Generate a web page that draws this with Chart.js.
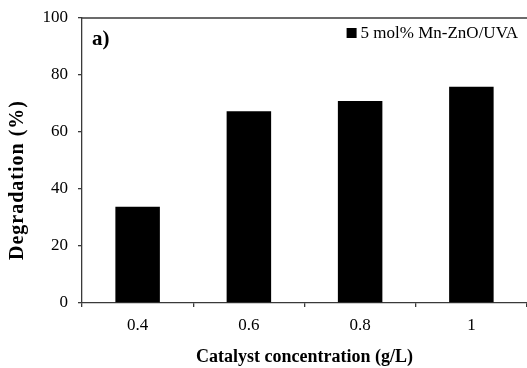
<!DOCTYPE html>
<html>
<head>
<meta charset="utf-8">
<script src="https://cdn.jsdelivr.net/npm/chart.js@4.4.0/dist/chart.umd.min.js"></script>
<style>
html,body{margin:0;padding:0;background:#fff;overflow:hidden;}
#wrap{width:527px;height:368px;}
</style>
</head>
<body>
<div id="wrap"><canvas id="c" width="527" height="368"></canvas></div>
<script>
const categories = ["0.4", "0.6", "0.8", "1"];
const degradation = [33.8, 67.3, 70.9, 75.9];
const seriesLabel = "5 mol% Mn-ZnO/UVA";
const yTicks = [0, 20, 40, 60, 80, 100];
const panelLabel = "a)";
const xTitle = "Catalyst concentration (g/L)";
const yTitle = "Degradation (%)";

const serif = "'Liberation Serif', 'Times New Roman', serif";
const axisColor = "#3a3a3a";

const extras = {
  id: "extras",
  afterDraw(chart) {
    const ctx = chart.ctx, a = chart.chartArea;
    ctx.save();
    // top frame line
    ctx.strokeStyle = axisColor;
    ctx.lineWidth = 1.3;
    ctx.beginPath();
    ctx.moveTo(a.left, a.top);
    ctx.lineTo(a.right, a.top);
    ctx.stroke();
    // panel label
    ctx.fillStyle = "#000";
    ctx.font = "bold 21px " + serif;
    ctx.textBaseline = "middle";
    ctx.textAlign = "left";
    ctx.fillText(panelLabel, a.left + 10, a.top + 22);
    // legend
    const ds = chart.data.datasets[0];
    ctx.font = "17px " + serif;
    const tw = ctx.measureText(ds.label).width;
    const tx = a.right - 9 - tw;
    const ty = a.top + 15;
    ctx.fillStyle = ds.backgroundColor;
    ctx.fillRect(tx - 14, ty - 5, 10, 10);
    ctx.fillStyle = "#000";
    ctx.fillText(ds.label, tx, ty + 1);
    // y axis title
    ctx.translate(17, 180);
    ctx.rotate(-Math.PI / 2);
    ctx.font = "bold 20px " + serif;
    ctx.letterSpacing = "1px";
    ctx.textAlign = "center";
    ctx.fillText(yTitle, 0, 1);
    ctx.restore();
  }
};

new Chart(document.getElementById("c"), {
  type: "bar",
  data: {
    labels: categories,
    datasets: [{
      label: seriesLabel,
      data: degradation,
      backgroundColor: "#000000",
      borderWidth: 0,
      barPercentage: 0.4,
      categoryPercentage: 1.0
    }]
  },
  options: {
    responsive: false,
    animation: false,
    devicePixelRatio: 1,
    layout: { padding: { top: 18, right: 0, left: 0, bottom: 0 } },
    plugins: { legend: { display: false }, tooltip: { enabled: false } },
    scales: {
      x: {
        grid: { drawOnChartArea: false, drawTicks: true, tickLength: 4, color: axisColor, lineWidth: 1.3, offset: true },
        border: { color: axisColor, width: 1.3 },
        ticks: { color: "#000", font: { family: serif, size: 17 }, padding: 8 },
        title: { display: true, text: xTitle, color: "#000", font: { family: serif, size: 18, weight: "bold" }, padding: { top: 0, bottom: 0 } },
        afterFit(s) { s.height = 65; s.paddingLeft = 0; s.paddingRight = 0; }
      },
      y: {
        min: 0, max: 100,
        afterBuildTicks(s) { s.ticks = yTicks.map(v => ({ value: v })); },
        grid: { drawOnChartArea: false, drawTicks: true, tickLength: 4, color: axisColor, lineWidth: 1.3 },
        border: { color: axisColor, width: 1.3 },
        ticks: { color: "#000", font: { family: serif, size: 17 }, padding: 10 },
        title: { display: false, text: yTitle },
        afterFit(s) { s.width = 82; s.paddingTop = 0; s.paddingBottom = 0; }
      }
    }
  },
  plugins: [extras]
});
</script>
</body>
</html>
